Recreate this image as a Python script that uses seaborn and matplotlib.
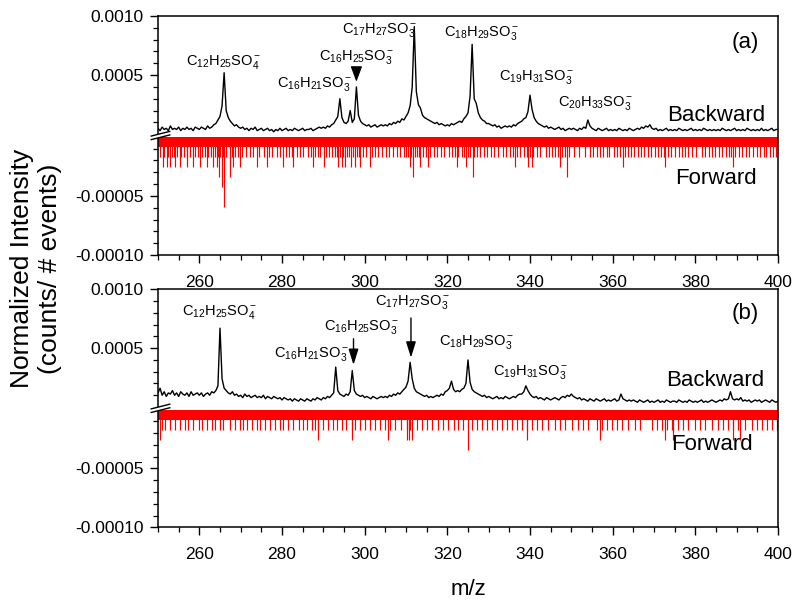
import numpy as np
import matplotlib
matplotlib.use("Agg")
import matplotlib.pyplot as plt
import seaborn as sns
from matplotlib.ticker import FixedLocator, FixedFormatter, NullFormatter
from matplotlib.patches import Polygon

# ---------------- data ----------------
# m/z sampling grid of the digitised backward spectra (0.5 steps, 250..400)
mz_grid = np.arange(250.0, 400.01, 0.5)

# backward spectrum, panel (a), units of 1e-5 (counts / # events)
back_a_rows = [
    [5, 3, 6, 4, 5, 3, 7, 4, 5, 4],          # 250.0-254.5
    [6, 3, 5, 4, 6, 4, 5, 3, 6, 5],          # 255
    [4, 6, 5, 4, 7, 5, 6, 8, 9, 12],         # 260
    [15, 24, 52, 20, 14, 11, 9, 7, 8, 6],    # 265
    [5, 6, 4, 5, 3, 5, 4, 6, 3, 4],          # 270
    [5, 3, 4, 5, 3, 4, 2, 4, 3, 5],          # 275
    [3, 4, 5, 3, 4, 3, 5, 4, 3, 4],          # 280
    [5, 3, 4, 4, 5, 3, 4, 5, 6, 5],          # 285
    [6, 5, 7, 6, 8, 9, 12, 15, 30, 14],      # 290
    [10, 9, 11, 20, 10, 13, 40, 16, 11, 9],  # 295
    [8, 7, 8, 6, 7, 8, 6, 7, 8, 7],          # 300
    [8, 7, 9, 8, 10, 9, 11, 10, 13, 12],     # 305
    [15, 18, 24, 40, 91, 36, 25, 22, 16, 14],  # 310
    [13, 12, 11, 10, 9, 10, 8, 9, 8, 7],     # 315
    [8, 7, 9, 8, 9, 10, 11, 10, 13, 15],     # 320
    [18, 32, 76, 30, 26, 18, 14, 12, 11, 9],  # 325
    [9, 8, 7, 8, 6, 7, 5, 6, 7, 6],          # 330
    [7, 6, 8, 7, 9, 10, 11, 13, 14, 19],     # 335
    [33, 21, 14, 11, 9, 8, 7, 6, 7, 5],      # 340
    [6, 5, 4, 5, 6, 4, 5, 3, 4, 5],          # 345
    [4, 5, 4, 3, 5, 4, 6, 5, 12, 7],         # 350
    [5, 4, 3, 5, 4, 3, 4, 5, 3, 4],          # 355
    [3, 4, 3, 5, 4, 3, 4, 3, 5, 4],          # 360
    [3, 4, 5, 4, 6, 5, 7, 6, 8, 5],          # 365
    [4, 5, 3, 4, 3, 4, 5, 3, 4, 3],          # 370
    [4, 3, 5, 4, 3, 4, 3, 4, 5, 3],          # 375
    [4, 3, 4, 3, 5, 4, 3, 4, 3, 4],          # 380
    [3, 4, 3, 5, 4, 3, 4, 3, 4, 5],          # 385
    [3, 4, 3, 4, 3, 5, 4, 3, 4, 3],          # 390
    [4, 3, 5, 3, 4, 3, 4, 5, 3, 4],          # 395
    [4],                                      # 400
]

# backward spectrum, panel (b), units of 1e-5
back_b_rows = [
    [12, 16, 10, 13, 9, 12, 11, 14, 10, 12],   # 250
    [9, 13, 11, 10, 12, 9, 13, 10, 11, 12],    # 255
    [10, 12, 9, 11, 12, 10, 13, 12, 14, 18],   # 260
    [67, 24, 16, 14, 12, 11, 13, 10, 11, 9],   # 265
    [10, 8, 11, 9, 10, 8, 9, 10, 8, 9],        # 270
    [8, 10, 7, 9, 8, 7, 9, 8, 7, 8],           # 275
    [6, 8, 7, 6, 7, 5, 7, 6, 5, 7],            # 280
    [6, 5, 7, 6, 5, 7, 6, 8, 7, 6],            # 285
    [8, 7, 9, 8, 10, 12, 34, 14, 11, 10],      # 290
    [9, 11, 10, 13, 31, 14, 11, 10, 9, 10],    # 295
    [8, 9, 8, 7, 9, 8, 7, 8, 9, 8],            # 300
    [9, 8, 10, 9, 11, 10, 12, 11, 13, 15],     # 305
    [17, 22, 38, 24, 16, 13, 12, 11, 10, 9],   # 310
    [10, 8, 9, 8, 9, 10, 9, 11, 10, 13],       # 315
    [14, 16, 22, 15, 13, 14, 13, 15, 16, 20],  # 320
    [40, 21, 15, 13, 12, 11, 10, 9, 10, 8],    # 325
    [9, 8, 7, 8, 9, 7, 8, 7, 9, 8],            # 330
    [7, 8, 9, 8, 10, 11, 11, 13, 18, 14],      # 335
    [11, 9, 8, 9, 7, 8, 7, 6, 8, 7],           # 340
    [6, 7, 8, 7, 6, 8, 9, 8, 10, 9],           # 345
    [11, 9, 8, 7, 8, 6, 7, 6, 5, 7],           # 350
    [6, 5, 7, 6, 5, 6, 7, 5, 6, 5],            # 355
    [6, 7, 5, 6, 11, 7, 6, 5, 6, 5],           # 360
    [6, 5, 4, 6, 5, 4, 5, 6, 4, 5],            # 365
    [4, 5, 6, 4, 5, 4, 6, 5, 4, 5],            # 370
    [5, 4, 6, 5, 4, 5, 4, 6, 5, 4],            # 375
    [5, 4, 5, 6, 4, 5, 4, 5, 6, 5],            # 380
    [4, 5, 6, 5, 7, 6, 7, 13, 7, 6],           # 385
    [7, 6, 8, 5, 6, 5, 6, 4, 5, 6],            # 390
    [5, 6, 4, 5, 6, 5, 4, 6, 5, 4],            # 395
    [5],                                       # 400
]

# forward spectra: one count everywhere (solid band) + bins with more counts
fwd_unit_a = 8.5e-6
fwd_unit_b = 8.6e-6
fwd_base_range = [250.0, 400.0]

fa_2 = [250.6, 251.5, 252.4, 253.3, 253.8, 254.6, 255.5, 256.2, 257.1, 257.8,
        258.9, 259.6, 260.7, 261.3, 262.2, 262.8, 263.7, 264.4, 265.1, 265.7,
        266.5, 267.8, 268.7, 269.3, 270.4, 271.2, 272.3, 273.1, 274.5, 275.6,
        276.9, 277.6, 278.8, 279.5, 280.9, 281.7, 282.3, 283.6, 284.4, 285.1,
        286.2, 286.9, 287.9, 288.6, 289.3, 290.6, 291.4, 292.2, 292.8, 293.3,
        294.1, 294.7, 295.8, 296.3, 297.2, 298.2, 298.7, 299.6, 300.4, 301.8,
        302.5, 303.3, 304.1, 305.2, 306.0, 306.9, 307.8, 308.6, 309.4, 310.1,
        310.6, 311.3, 312.2, 312.7, 313.1, 314.2, 314.9, 315.9, 316.7, 317.5,
        318.4, 319.1, 320.3, 321.1, 321.8, 322.7, 323.5, 324.1, 325.0, 325.6,
        326.5, 327.2, 328.0, 328.8, 329.5, 330.6, 331.3, 332.2, 333.5, 334.3,
        335.1, 336.0, 336.9, 337.7, 338.5, 339.2, 339.9, 340.8, 341.6, 342.5,
        343.8, 344.6, 345.3, 346.1, 346.8, 347.8, 348.4, 349.5, 350.7, 351.9,
        353.2, 354.4, 355.3, 356.1, 357.0, 357.7, 358.6, 359.2, 360.3, 361.0,
        361.7, 362.9, 363.6, 364.5, 365.2, 366.1, 366.8, 367.6, 368.5, 369.3,
        370.2, 371.0, 371.8, 372.3, 373.4, 374.2, 375.1, 376.0, 376.7, 377.6,
        378.3, 379.2, 380.1, 381.5, 382.4, 383.2, 384.0, 384.8, 385.7, 386.4,
        387.3, 388.1, 388.7, 389.6, 390.5, 391.4, 392.3, 393.0, 393.9, 394.8,
        395.6, 396.5, 397.2, 398.1, 398.9, 399.6]
fa_3 = [251.2, 252.1, 252.9, 254.1, 255.3, 256.9, 258.5, 260.2, 261.8, 263.4,
        264.2, 268.2, 269.8, 273.9, 276.3, 280.3, 282.7, 287.6, 290.1, 293.6,
        294.4, 295.2, 296.8, 297.7, 298.9, 301.3, 311.0, 313.4, 315.4, 322.3,
        324.6, 336.4, 339.6, 340.4, 347.3, 362.6, 372.7, 389.2]
fa_peak_mz = [264.8, 265.4, 266.0, 267.3, 311.8, 326.1, 348.9]
fa_peak_n = [4, 5, 7, 4, 4, 4, 4]

fb_2 = [250.9, 251.7, 252.9, 254.1, 255.3, 256.5, 257.3, 258.5, 259.8, 260.6,
        261.8, 263.0, 263.8, 265.0, 265.8, 267.4, 268.6, 269.8, 270.6, 271.5,
        272.7, 273.9, 274.7, 275.9, 277.1, 278.3, 279.5, 280.3, 281.5, 282.7,
        284.0, 285.2, 286.0, 287.2, 288.0, 288.8, 290.0, 291.2, 292.4, 293.2,
        294.4, 295.6, 296.9, 297.7, 298.9, 300.1, 301.3, 302.5, 303.7, 304.9,
        306.1, 307.3, 308.9, 310.2, 311.0, 311.4, 312.6, 313.8, 315.0, 316.2,
        317.8, 319.0, 320.2, 321.5, 322.7, 323.9, 325.9, 327.1, 328.3, 329.5,
        330.7, 331.9, 333.2, 334.4, 335.6, 336.8, 338.0, 339.2, 340.4, 341.6,
        342.8, 344.4, 346.1, 347.3, 348.5, 350.1, 351.7, 352.9, 354.1, 356.1,
        357.3, 358.6, 359.8, 361.0, 362.2, 363.8, 365.4, 366.6, 369.4, 370.7,
        371.9, 373.1, 374.3, 375.9, 377.1, 378.3, 379.9, 381.1, 382.3, 384.0,
        385.6, 386.8, 388.0, 389.2, 390.4, 392.0, 393.6, 394.8, 396.1, 397.3,
        398.5, 399.7]
fb_3 = [250.4, 288.6, 297.0, 305.7, 310.3, 310.8, 311.4, 339.2, 356.9, 372.7,
        374.7, 389.2, 390.8]
fb_peak_mz = [325.1]
fb_peak_n = [4]

# peak labels: (text, m/z of label centre, label baseline value)
labels_a = [
    (r"C$_{12}$H$_{25}$SO$_4^-$", 266.0, 0.000583),
    (r"C$_{16}$H$_{21}$SO$_3^-$", 288.0, 0.000397),
    (r"C$_{16}$H$_{25}$SO$_3^-$", 298.1, 0.000625),
    (r"C$_{17}$H$_{27}$SO$_3^-$", 303.7, 0.00086),
    (r"C$_{18}$H$_{29}$SO$_3^-$", 328.4, 0.000833),
    (r"C$_{19}$H$_{31}$SO$_3^-$", 341.7, 0.000458),
    (r"C$_{20}$H$_{33}$SO$_3^-$", 356.0, 0.000242),
]
labels_b = [
    (r"C$_{12}$H$_{25}$SO$_4^-$", 265.0, 0.00078),
    (r"C$_{16}$H$_{21}$SO$_3^-$", 287.3, 0.000429),
    (r"C$_{16}$H$_{25}$SO$_3^-$", 299.4, 0.000655),
    (r"C$_{17}$H$_{27}$SO$_3^-$", 311.7, 0.000867),
    (r"C$_{18}$H$_{29}$SO$_3^-$", 327.2, 0.000528),
    (r"C$_{19}$H$_{31}$SO$_3^-$", 340.2, 0.000274),
]

x_major = [260, 280, 300, 320, 340, 360, 380, 400]
y_major = [-0.0001, -0.00005, 0.0005, 0.001]
y_major_labels = ["-0.00010", "-0.00005", "0.0005", "0.0010"]

# ---------------- style ----------------
sns.set_theme(style="ticks")
plt.rcParams["font.family"] = ["Liberation Sans", "DejaVu Sans"]
plt.rcParams["mathtext.fontset"] = "custom"
plt.rcParams["mathtext.rm"] = "Liberation Sans"
plt.rcParams["mathtext.it"] = "Liberation Sans:italic"
plt.rcParams["mathtext.bf"] = "Liberation Sans:bold"
plt.rcParams["axes.unicode_minus"] = False
plt.rcParams["text.color"] = "black"
plt.rcParams["axes.labelcolor"] = "black"
plt.rcParams["xtick.color"] = "black"
plt.rcParams["ytick.color"] = "black"

GAP = 2.2e-5  # visual gap of the broken axis (in transformed units)


def fwd(y):
    y = np.asarray(y, dtype=float)
    return np.where(y > 0, y, 10.0 * y - GAP)


def inv(t):
    t = np.asarray(t, dtype=float)
    return np.where(t > 0, t, np.where(t < -GAP, (t + GAP) / 10.0, 0.0))


fig = plt.figure(figsize=(8.0, 6.03), dpi=100)
ax_a = fig.add_axes([0.1975, 0.5771, 0.775, 0.3964])
ax_b = fig.add_axes([0.1975, 0.1255, 0.775, 0.3947])

panels = [
    (ax_a, back_a_rows, fwd_unit_a, fa_2, fa_3, fa_peak_mz, fa_peak_n, labels_a, "(a)",
     (385.0, 0.000111), (385.0, -0.0000398), (392.0, 0.000775)),
    (ax_b, back_b_rows, fwd_unit_b, fb_2, fb_3, fb_peak_mz, fb_peak_n, labels_b, "(b)",
     (384.8, 0.000175), (384.0, -0.0000343), (392.0, 0.000796)),
]

red = "#ff0000"
for (ax, rows, unit, f2, f3, pk_mz, pk_n, labs, tag, bpos, fpos, tpos) in panels:
    back = np.array([v for r in rows for v in r], dtype=float) * 1e-5
    sns.lineplot(x=mz_grid, y=back, ax=ax, color="black", lw=1.0,
                 estimator=None, sort=False, zorder=3)
    ax.fill_between(fwd_base_range, 0, -1 * unit, color=red, lw=0, zorder=2)
    ax.vlines(f2, 0, -2 * unit, color=red, lw=0.85, zorder=2)
    ax.vlines(f3, 0, -3 * unit, color=red, lw=0.85, zorder=2)
    ax.vlines(pk_mz, 0, -np.asarray(pk_n) * unit, color=red, lw=0.85, zorder=2)

    ax.set_yscale("function", functions=(fwd, inv))
    ax.set_xlim(250, 400)
    ax.set_ylim(-0.0001, 0.001)

    ax.xaxis.set_major_locator(FixedLocator(x_major))
    ax.xaxis.set_minor_locator(FixedLocator(list(range(250, 401, 5))))
    ax.yaxis.set_major_locator(FixedLocator(y_major))
    ax.yaxis.set_major_formatter(FixedFormatter(y_major_labels))
    ax.yaxis.set_minor_locator(FixedLocator(
        [k * 1e-4 for k in range(1, 10) if k != 5] +
        [-k * 1e-5 for k in range(1, 10) if k != 5]))
    ax.yaxis.set_minor_formatter(NullFormatter())
    ax.tick_params(which="major", direction="out", length=5.5, width=1.0,
                   labelsize=12.5, color="black", labelcolor="black")
    ax.tick_params(axis="x", which="major", pad=9)
    ax.tick_params(axis="y", which="major", pad=5)
    ax.tick_params(which="minor", direction="out", length=3.5, width=0.9, color="black")
    ax.tick_params(top=False, right=False, which="both")
    for s in ax.spines.values():
        s.set_color("black")
        s.set_linewidth(1.1)
    ax.set_xlabel("")
    ax.set_ylabel("")

    for txt, x, y in labs:
        ax.text(x, y, txt, ha="center", va="baseline", fontsize=10.5, color="black")
    ax.text(*bpos, "Backward", ha="center", va="baseline", fontsize=16, color="black")
    ax.text(*fpos, "Forward", ha="center", va="baseline", fontsize=16, color="black")
    ax.text(*tpos, tag, ha="center", va="center", fontsize=16, color="black")

# markers pointing at the C16H25SO3- / C17H27SO3- peaks
ax_a.annotate("", xy=(298.0, 0.000444), xytext=(298.0, 0.000541),
              arrowprops=dict(arrowstyle="-|>,head_length=0.8,head_width=0.3",
                              color="black", lw=0.8, shrinkA=0, shrinkB=0))
ax_b.annotate("", xy=(297.3, 0.000358), xytext=(297.3, 0.00058),
              arrowprops=dict(arrowstyle="-|>,head_length=0.8,head_width=0.25",
                              color="black", lw=1.0, shrinkA=0, shrinkB=0))
ax_b.annotate("", xy=(311.2, 0.00042), xytext=(311.2, 0.000756),
              arrowprops=dict(arrowstyle="-|>,head_length=0.8,head_width=0.25",
                              color="black", lw=1.0, shrinkA=0, shrinkB=0))

# axis-break marks on the left spine
fig.canvas.draw()
for ax in (ax_a, ax_b):
    bb = ax.get_window_extent()
    w, h = bb.width, bb.height

    def P(dx, dy):
        return (dx / w, 0.5 + dy / h)

    off = 1.8
    x0, x1, y0, y1 = -7.0, 12.0, -2.4, 2.4
    xm = 3.0
    ym = y0 + (y1 - y0) * (xm - x0) / (x1 - x0)
    poly = Polygon([P(x0, y0 - off), P(xm, ym - off), P(xm, ym + off), P(x0, y0 + off)],
                   closed=True, transform=ax.transAxes, facecolor="white",
                   edgecolor="none", clip_on=False, zorder=6)
    ax.add_patch(poly)
    for s in (-off, off):
        a, b = P(x0, y0 + s), P(x1, y1 + s)
        ax.plot([a[0], b[0]], [a[1], b[1]], transform=ax.transAxes, color="black",
                lw=1.0, clip_on=False, zorder=7)

fig.text(0.045, 0.555, "Normalized Intensity\n(counts/ # events)", rotation=90,
         ha="center", va="center", fontsize=19, linespacing=1.2, color="black")
fig.text(0.585, 0.022, "m/z", ha="center", va="center", fontsize=16, color="black")

fig.savefig("out.png", dpi=100)
